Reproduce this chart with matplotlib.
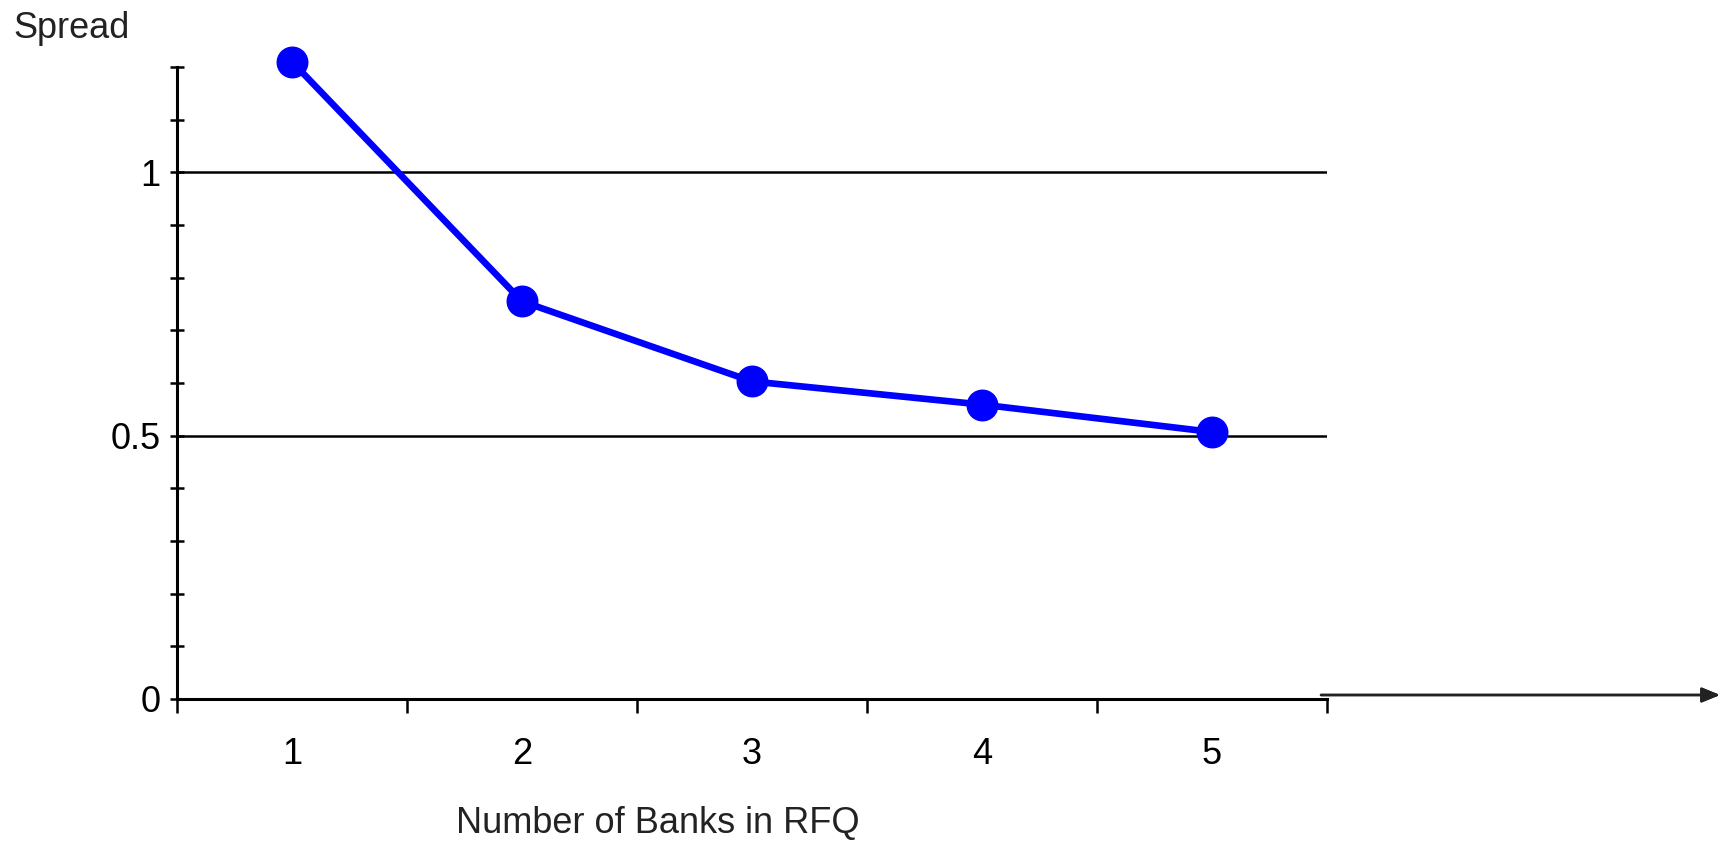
import matplotlib.pyplot as plt
from matplotlib.ticker import MultipleLocator

banks = [1, 2, 3, 4, 5]
spread = [1.21, 0.755, 0.603, 0.559, 0.507]
y_major = [0, 0.5, 1]
y_labels = ["0", "0.5", "1"]

plt.rcParams['font.family'] = ['Liberation Sans', 'DejaVu Sans']

W, H = 1721, 842
fig = plt.figure(figsize=(W / 100, H / 100), dpi=100)
ax = fig.add_axes([177 / W, 1 - 699 / H, (1327 - 177) / W, (699 - 67) / H])

# horizontal reference lines
for g in [0.5, 1]:
    ax.axhline(g, color="black", lw=1.8, zorder=1)

ax.plot(banks, spread, color="#0000ff", lw=4.8, marker="o", markersize=22,
        zorder=3, clip_on=False)

ax.set_xlim(0.5, 5.5)
ax.set_ylim(0, 1.2)
ax.set_xticks([0.5, 1.5, 2.5, 3.5, 4.5, 5.5])
ax.set_xticklabels([])
ax.set_xticks(banks, minor=True)
ax.set_xticklabels([str(b) for b in banks], minor=True)
ax.tick_params(axis="x", which="major", direction="out", length=10, width=1.8)
ax.tick_params(axis="x", which="minor", length=0, pad=27, labelsize=26)

ax.set_yticks(y_major)
ax.set_yticklabels(y_labels)
ax.yaxis.set_minor_locator(MultipleLocator(0.1))
ax.tick_params(axis="y", which="both", direction="inout", length=10, width=1.8,
               labelsize=26, pad=7)

for s in ["top", "right"]:
    ax.spines[s].set_visible(False)
for s in ["left", "bottom"]:
    ax.spines[s].set_linewidth(2.2)

fig.text(13 / W, 1 - 29 / H, "Spread", fontsize=26, color="#222222",
         ha="left", va="center")
fig.text(658 / W, 1 - 823 / H, "Number of Banks in RFQ", fontsize=26,
         color="#222222", ha="center", va="center")

# arrow to the right of the axis
fig.add_artist(plt.annotate("", xy=(1720 / W, 1 - 695 / H), xytext=(1321 / W, 1 - 695 / H),
                            xycoords="figure fraction", textcoords="figure fraction",
                            arrowprops=dict(arrowstyle="-|>,head_length=1.1,head_width=0.45",
                                            color="#222222", lw=1.8, shrinkA=0, shrinkB=0)))

fig.savefig("out.png", dpi=100)
